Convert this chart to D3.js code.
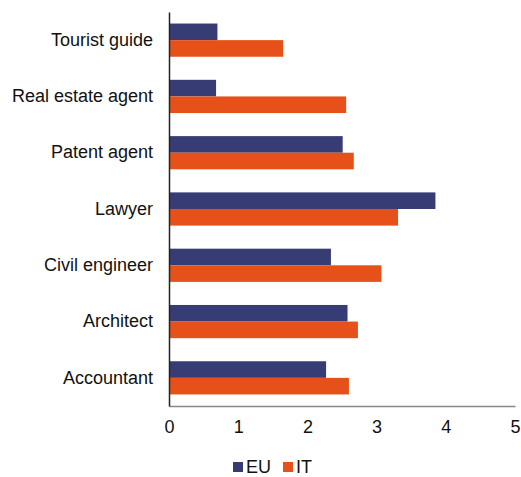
<!DOCTYPE html>
<html><head><meta charset="utf-8">
<script src="https://cdn.jsdelivr.net/npm/d3@7"></script>
<style>body{margin:0;background:#fff}svg{display:block;font-family:"Liberation Sans",Arial,sans-serif}</style>
</head><body>
<svg id="c" width="521" height="477"></svg>
<script>
const categories = ["Tourist guide","Real estate agent","Patent agent","Lawyer","Civil engineer","Architect","Accountant"];
const seriesNames = ["EU","IT"];
const euValues = [0.70,0.68,2.51,3.85,2.34,2.58,2.27];
const itValues = [1.65,2.56,2.67,3.31,3.07,2.73,2.60];
const xTicks = [0,1,2,3,4,5];
const colors = ["#373c74","#e65119"];

const svg = d3.select("#c");
const m = {l:169, r:6, t:12, b:71};
const W = 521, H = 477;
const FS = 18;
const x = d3.scaleLinear().domain([0,5]).range([m.l, W-m.r]);
const y = d3.scaleBand().domain(categories).range([m.t, H-m.b]).paddingInner(0.41).paddingOuter(0.205);
const y1 = d3.scaleBand().domain(seriesNames).range([0, y.bandwidth()]);

const data = categories.map((c,i)=>({cat:c, vals:[euValues[i], itValues[i]]}));
const g = svg.append("g");
data.forEach(d=>{
  seriesNames.forEach((s,j)=>{
    g.append("rect")
      .attr("x", x(0))
      .attr("y", y(d.cat)+y1(s))
      .attr("width", x(d.vals[j])-x(0))
      .attr("height", y1.bandwidth())
      .attr("fill", colors[j]);
  });
});

// x axis
const xa = svg.append("g").attr("transform",`translate(0,${H-m.b})`)
  .call(d3.axisBottom(x).tickValues(xTicks).tickSize(0).tickPadding(14).tickFormat(d3.format("d")));
xa.select(".domain").attr("stroke","#888").attr("stroke-width",1.5);
xa.selectAll("text").attr("font-size",FS).attr("fill","#111").attr("font-family","Liberation Sans, Arial, sans-serif");

// y axis
const ya = svg.append("g").attr("transform",`translate(${m.l},0)`)
  .call(d3.axisLeft(y).tickSize(0).tickPadding(16));
ya.select(".domain").attr("stroke","#222").attr("stroke-width",1.5);
ya.selectAll("text").attr("font-size",FS).attr("fill","#111").attr("font-family","Liberation Sans, Arial, sans-serif");

// legend
const lg = svg.append("g");
const legX = [233, 283];
seriesNames.forEach((s,j)=>{
  lg.append("rect").attr("x",legX[j]).attr("y",462).attr("width",10).attr("height",10).attr("fill",colors[j]);
  lg.append("text").attr("x",legX[j]+13).attr("y",473).attr("font-size",FS).attr("fill","#111").text(s);
});
</script>
</body></html>
